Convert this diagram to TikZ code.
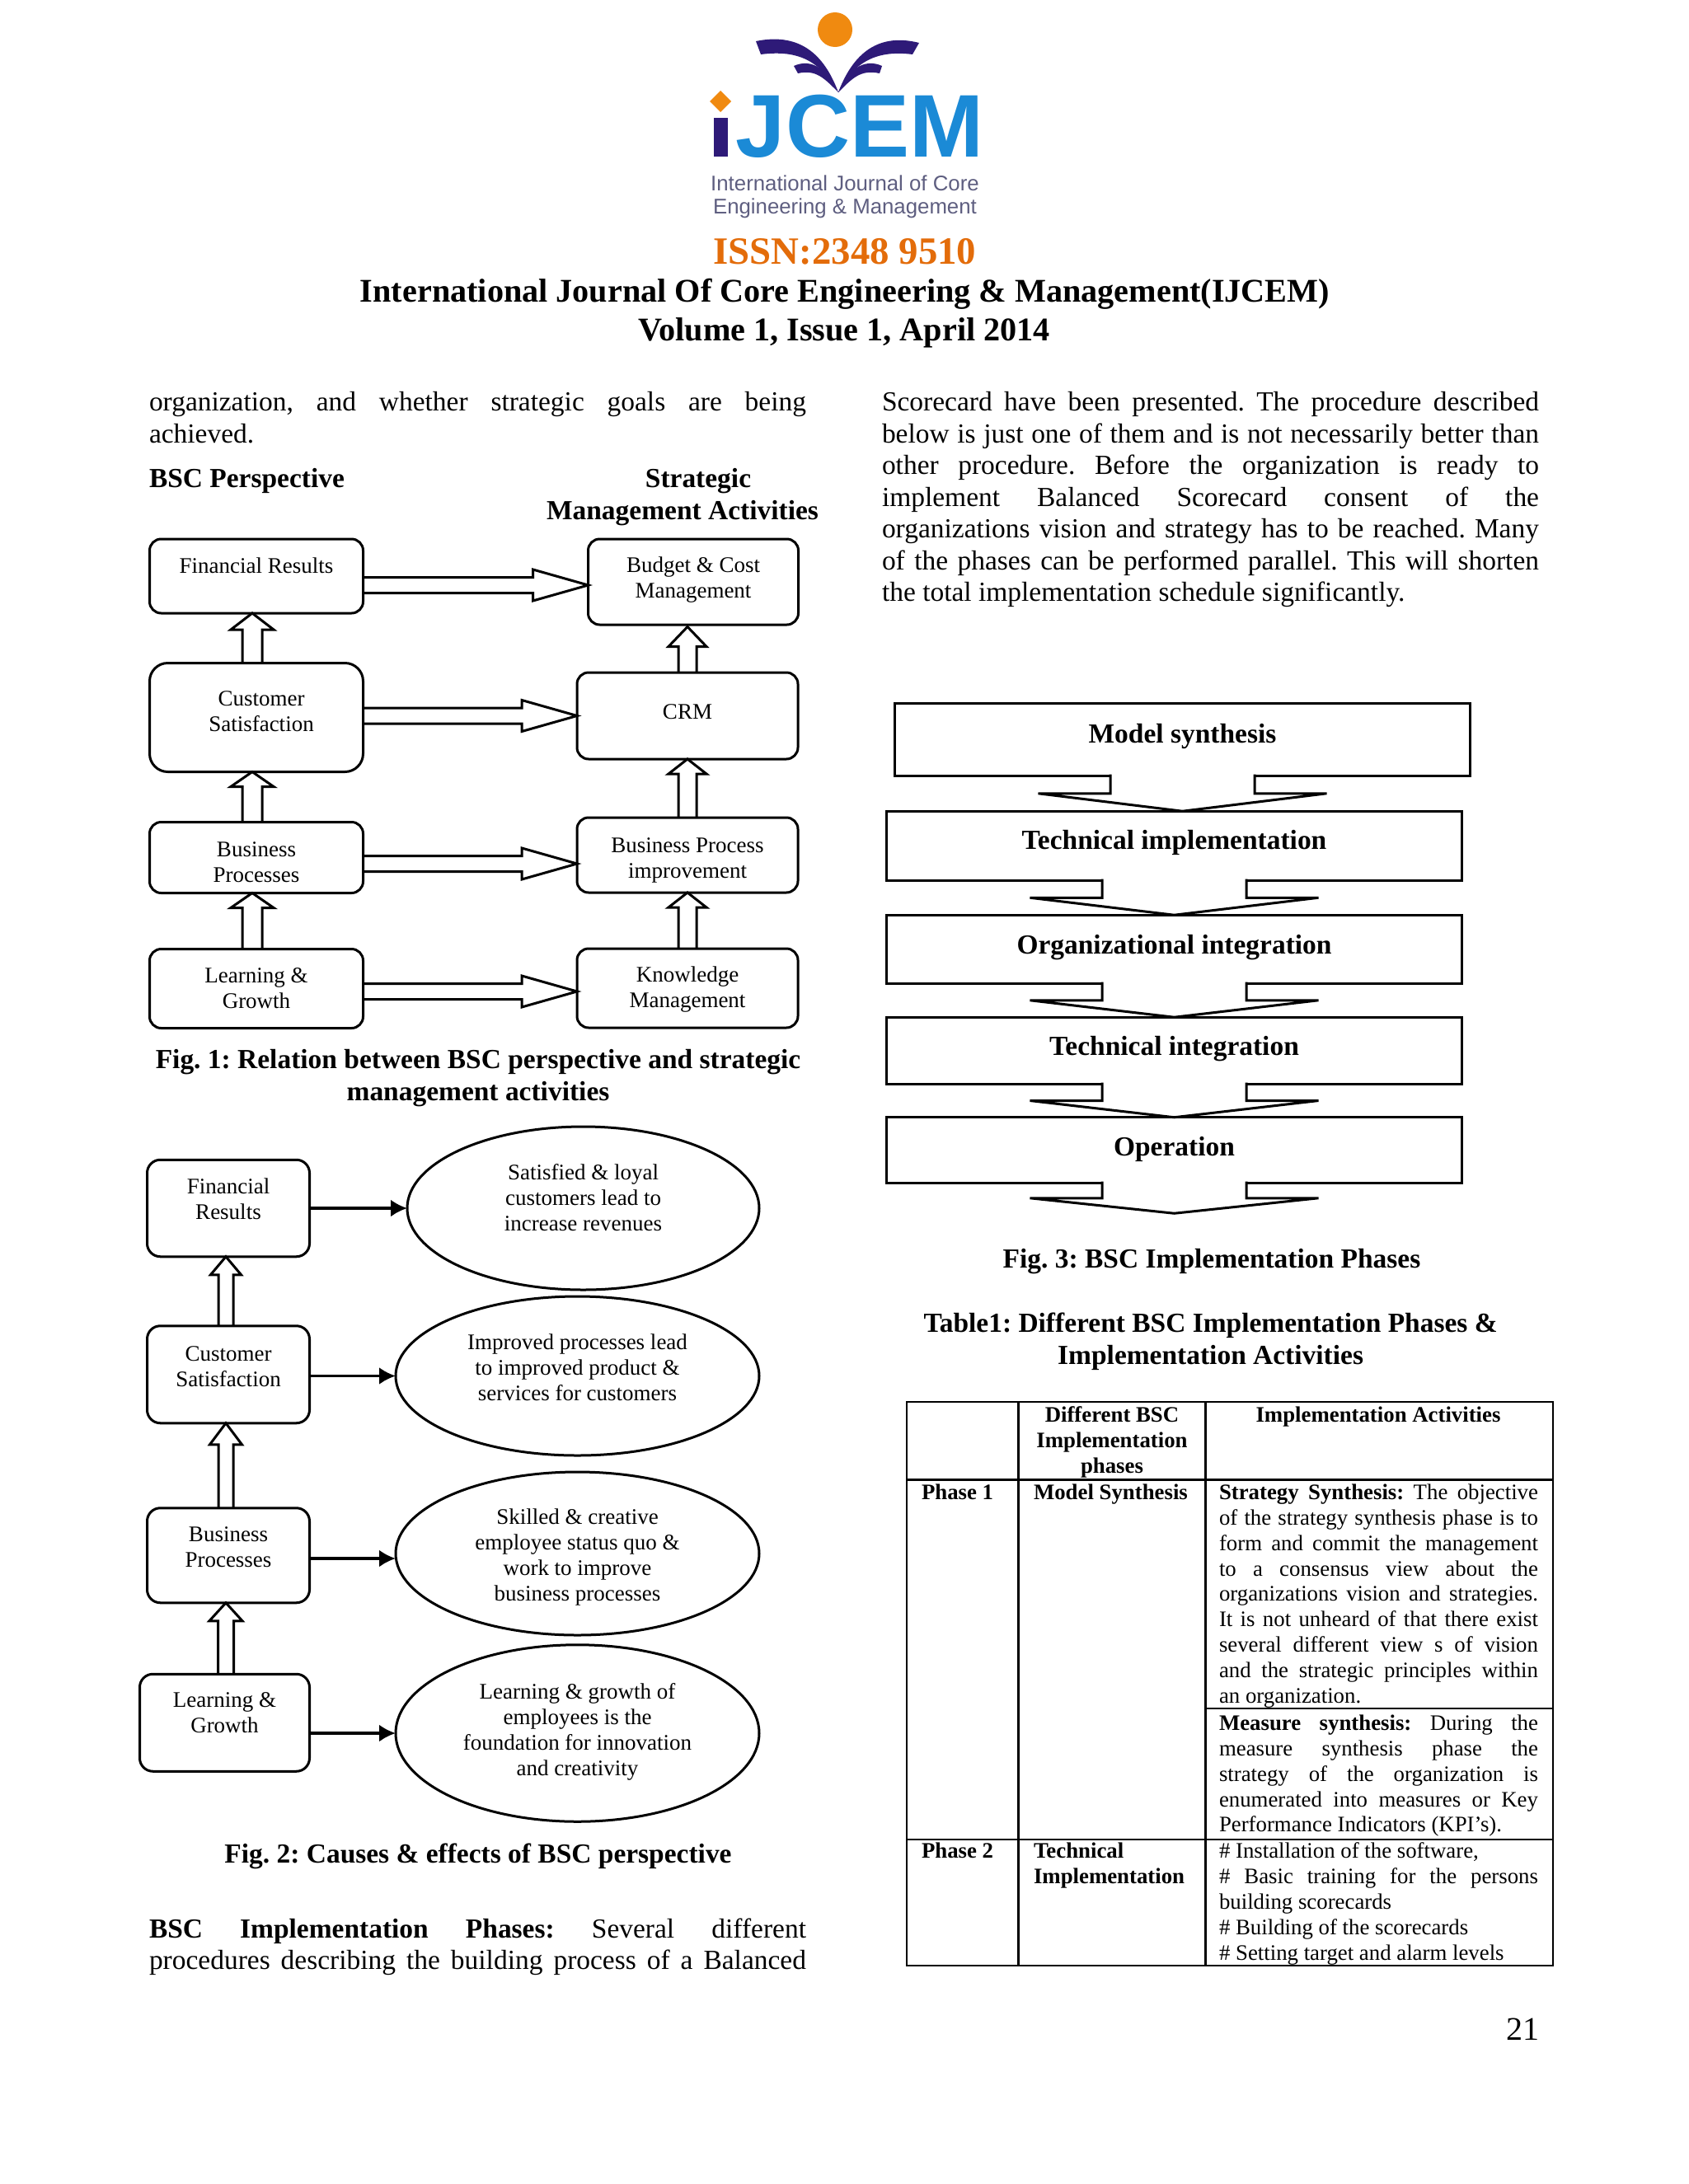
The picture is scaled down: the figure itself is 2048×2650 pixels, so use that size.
\documentclass[tikz,border=0pt]{standalone}
\usepackage{fontspec}
\setmainfont{Liberation Serif}
\setsansfont{Liberation Sans}
\usetikzlibrary{positioning}
\usetikzlibrary{calc}
\usetikzlibrary{shapes.geometric}
\usetikzlibrary{arrows.meta}
\frenchspacing

\definecolor{logopurple}{HTML}{2E1A78}
\definecolor{logoorange}{HTML}{F08A10}
\definecolor{logoblue}{HTML}{1B8AD6}
\definecolor{logogrey}{HTML}{5E5E80}
\definecolor{issnorange}{HTML}{E36C0A}

\newcommand{\parafit}{\tolerance=9999\hyphenpenalty=10000\emergencystretch=20pt\relax}
\newcommand{\bodyfont}{\fontsize{33.46}{38.5}\selectfont\parafit}
\newcommand{\figfont}{\fontsize{27}{31}\selectfont}
\newcommand{\tabfont}{\fontsize{26.8}{30.8}\selectfont\parafit}

\tikzset{
bodytext/.style={font=\bodyfont,inner sep=0pt,outer sep=0pt,text width=797pt,align=justify,anchor=north west},
headtext/.style={font=\bodyfont\bfseries,inner sep=0pt,outer sep=0pt,align=center},
tabtext/.style={font=\tabfont,inner sep=0pt,outer sep=0pt,anchor=north west},
tabhead/.style={font=\tabfont\bfseries,inner sep=0pt,outer sep=0pt,align=center,anchor=north},
roundbox/.style={draw,line width=3pt,rounded corners=14pt,inner sep=0pt,outer sep=0pt,align=center,font=\figfont},
oval/.style={draw,ellipse,line width=3pt,inner sep=0pt,outer sep=0pt,align=center,font=\figfont},
phasebox/.style={draw,line width=3pt,inner sep=0pt,outer sep=0pt,minimum width=698pt,font=\bodyfont\bfseries},
hollowright/.style={line width=3pt,line join=miter,to path={
  let \p1=(\tikztostart),\p2=(\tikztotarget) in
  (\x1,\y2+9.5pt) -- (\x2-67pt,\y2+9.5pt) -- (\x2-67pt,\y2+19pt) -- (\x2,\y2)
  -- (\x2-67pt,\y2-19pt) -- (\x2-67pt,\y2-9.5pt) -- (\x1,\y2-9.5pt)}},
hollowup/.style n args={3}{line width=3pt,line join=miter,to path={
  let \p1=(\tikztostart),\p2=(\tikztotarget) in
  (\x1-#1,\y1) -- (\x1-#1,\y2-#3) -- (\x1-#2,\y2-#3) -- (\x1,\y2)
  -- (\x1+#2,\y2-#3) -- (\x1+#1,\y2-#3) -- (\x1+#1,\y1)}},
phasearrow/.style={line width=3pt,fill=white,line join=miter,to path={
  let \p1=(\tikztostart),\p2=(\tikztotarget) in
  (\x1-87.5pt,\y1+1.6pt) -- (\x1-87.5pt,{(\y1+\y2)/2}) -- (\x1-175pt,{(\y1+\y2)/2}) -- (\x1,\y2)
  -- (\x1+175pt,{(\y1+\y2)/2}) -- (\x1+87.5pt,{(\y1+\y2)/2}) -- (\x1+87.5pt,\y1+1.6pt)}},
solidarrow/.style={line width=3.5pt,-{Latex[length=20pt,width=21pt]}},
tabline/.style={line width=2.6pt}
}

\begin{document}
\begin{tikzpicture}[x=1pt,y=-1pt]
\useasboundingbox (0,0) rectangle (2048,2650);

%logo
\fill[logoorange] (1013,36) circle (21);
\fill[logopurple] (917,50) .. controls (975,38) and (1002,72) .. (1017,112) .. controls (995,75) and (970,60) .. (923,66) -- cycle;
\fill[logopurple] (1115,52) .. controls (1060,38) and (1032,72) .. (1017,112) .. controls (1035,78) and (1060,60) .. (1107,66) -- cycle;
\fill[logopurple] (963,80) .. controls (985,70) and (1005,85) .. (1017,112) .. controls (1000,95) and (990,84) .. (968,89) -- cycle;
\fill[logopurple] (1070,80) .. controls (1048,70) and (1028,85) .. (1017,112) .. controls (1034,95) and (1044,84) .. (1067,89) -- cycle;
\fill[logoorange] (874,110) -- (887,123) -- (874,136) -- (861,123) -- cycle;
\fill[logopurple] (866,143) rectangle (883,190);
\node[inner sep=0pt,text=logoblue,font=\fontsize{108}{108}\selectfont\sffamily\bfseries] (jcem) at (1043,153) {JCEM};
\node[inner sep=0pt,text=logogrey,font=\fontsize{25.8}{26}\selectfont\sffamily] (logo1) at (1025,222) {International Journal of Core};
\node[inner sep=0pt,text=logogrey,font=\fontsize{25.8}{26}\selectfont\sffamily] (logo2) at (1025,253) {Engineering \& Management};

%journal title
\node[inner sep=0pt,text=issnorange,font=\fontsize{46.8}{48}\selectfont\bfseries] (issn) at (1025,305) {ISSN:2348 9510};
\node[inner sep=0pt,font=\fontsize{40.2}{46}\selectfont\bfseries] (title1) at (1025,357) {International Journal Of Core Engineering \& Management(IJCEM)};
\node[inner sep=0pt,font=\fontsize{40.2}{46}\selectfont\bfseries] (title2) at (1024,404) {Volume 1, Issue 1, April 2014};

%left column
\node[bodytext] (left1) at (181,475.5) {organization, and whether strategic goals are being\linebreak achieved.};
\node[headtext,anchor=north west] (head1) at (181,568) {BSC Perspective};
\node[headtext] (head2) at (847,584) {Strategic};
\node[headtext] (head3) at (828,623) {Management Activities};

%fig 1 left boxes
\node[roundbox,minimum width=259pt,minimum height=90pt,text depth=26pt] (a1) at (311,699) {Financial Results};
\node[roundbox,minimum width=259pt,minimum height=132pt,rounded corners=22pt,text depth=15pt,below=60.5pt of a1] (a2) {\hspace*{12pt}Customer\\\hspace*{12pt}Satisfaction};
\node[roundbox,minimum width=259pt,minimum height=86pt,text depth=0pt,below=61pt of a2] (a3) {\rule{0pt}{28pt}Business\\Processes};
\node[roundbox,minimum width=259pt,minimum height=96pt,text depth=1pt,below=68pt of a3] (a4) {Learning \&\\Growth};

%fig 1 right boxes
\node[roundbox,minimum width=255pt,minimum height=104pt,text depth=10pt] (b1) at (841,706) {Budget \& Cost\\Management};
\node[roundbox,minimum width=268pt,minimum height=105pt,text depth=9pt,below=58pt of b1,xshift=-7pt] (b2) {CRM};
\node[roundbox,minimum width=268pt,minimum height=91pt,text depth=0pt,below=71pt of b2] (b3) {\rule{0pt}{25pt}Business Process\\improvement};
\node[roundbox,minimum width=268pt,minimum height=96pt,text depth=2pt,below=68pt of b3] (b4) {Knowledge\\Management};

\draw[hollowright] ($(a1.east |- b1.west)+(0,4)$) to ($(b1.west)+(0,4)$);
\draw[hollowright] (a2.east |- b2.west) to (b2.west);
\draw[hollowright] ($(a3.east |- b3.west)+(0,10.5)$) to ($(b3.west)+(0,10.5)$);
\draw[hollowright] ($(a4.east |- b4.west)+(0,4)$) to ($(b4.west)+(0,4)$);

\draw[hollowup={12pt}{26pt}{20pt}] ($(a2.north)+(-5,0)$) to ($(a1.south)+(-5,0)$);
\draw[hollowup={12pt}{26pt}{18pt}] ($(a3.north)+(-5,0)$) to ($(a2.south)+(-5,0)$);
\draw[hollowup={12pt}{26pt}{18pt}] ($(a4.north)+(-5,0)$) to ($(a3.south)+(-5,0)$);
\draw[hollowup={11pt}{23pt}{24pt}] (b2.north) to ($(b2.north |- b1.south)+(0,2.5)$);
\draw[hollowup={11pt}{23pt}{18pt}] (b3.north) to (b3.north |- b2.south);
\draw[hollowup={11pt}{23pt}{18pt}] (b4.north) to (b4.north |- b3.south);

\node[headtext] (cap1) at (580,1289) {Fig. 1: Relation between BSC perspective and strategic};
\node[headtext] (cap1b) at (580,1328) {management activities};

%fig 2 boxes
\node[roundbox,minimum width=197pt,minimum height=117.5pt,rounded corners=16pt,text depth=22pt] (c1) at (277,1466) {Financial\\Results};
\node[roundbox,minimum width=197pt,minimum height=118pt,rounded corners=16pt,text depth=20pt,below=84pt of c1] (c2) {Customer\\Satisfaction};
\node[roundbox,minimum width=197pt,minimum height=115pt,rounded corners=16pt,text depth=20pt,below=103pt of c2] (c3) {Business\\Processes};
\node[roundbox,minimum width=206pt,minimum height=118pt,rounded corners=16pt,text depth=24pt,below=86.5pt of c3,xshift=-4.5pt] (c4) {Learning \&\\Growth};

%fig 2 ovals
\node[oval,minimum width=427pt,minimum height=198pt,text depth=27pt] (e1) at (707.5,1466) {Satisfied \& loyal\\customers lead to\\increase revenues};
\node[oval,minimum width=441pt,minimum height=193pt,text depth=20pt] (e2) at (700.5,1669.5) {Improved processes lead\\to improved product \&\\services for customers};
\node[oval,minimum width=441pt,minimum height=198pt,text depth=0pt] (e3) at (700.5,1885) {\rule{0pt}{22pt}Skilled \& creative\\employee status quo \&\\work to improve\\business processes};
\node[oval,minimum width=441pt,minimum height=214.5pt,text depth=10pt] (e4) at (700.5,2103) {Learning \& growth of\\employees is the\\foundation for innovation\\and creativity};

\draw[solidarrow] (c1.east |- e1.west) -- (e1.west);
\draw[solidarrow] (c2.east |- e2.west) -- (e2.west);
\draw[solidarrow] ($(c3.east |- e3.west)+(0,6)$) -- ($(e3.west)+(0,6)$);
\draw[solidarrow] (c4.east |- e4.west) -- (e4.west);

\draw[hollowup={9pt}{18.5pt}{22pt}] ($(c2.north)+(-3,0)$) to ($(c1.south)+(-3,0)$);
\draw[hollowup={9pt}{19.5pt}{26pt}] ($(c3.north)+(-3,0)$) to ($(c2.south)+(-3,0)$);
\draw[hollowup={9.5pt}{20pt}{22pt}] ($(c4.north)+(1.5,0)$) to ($(c4.north |- c3.south)+(1.5,0)$);

\node[headtext] (cap2) at (580,2252) {Fig. 2: Causes \& effects of BSC perspective};
\node[bodytext] (left2) at (181,2327.5) {\textbf{BSC Implementation Phases:} Several different\linebreak \makebox[797pt][s]{procedures describing the building process of a Balanced}};

%right column
\node[bodytext] (right1) at (1070,475.5) {Scorecard have been presented. The procedure described\linebreak below is just one of them and is not necessarily better than\linebreak other procedure. Before the organization is ready to\linebreak implement Balanced Scorecard consent of the\linebreak organizations vision and strategy has to be reached. Many\linebreak of the phases can be performed parallel. This will shorten\linebreak the total implementation schedule significantly.};

%fig 3 phases
\node[phasebox,minimum height=87.5pt,text depth=15pt] (p1) at (1434.5,897.5) {Model synthesis};
\node[phasebox,minimum height=84pt,text depth=15pt,below=43pt of p1,xshift=-10pt] (p2) {Technical implementation};
\node[phasebox,minimum height=83pt,text depth=12pt,below=42pt of p2] (p3) {Organizational integration};
\node[phasebox,minimum height=81pt,text depth=12pt,below=41pt of p3] (p4) {Technical integration};
\node[phasebox,minimum height=79.5pt,text depth=10pt,below=40.5pt of p4] (p5) {Operation};
\coordinate[below=37pt of p5] (p6);

\draw[phasearrow] (p1.south) to (p1.south |- p2.north);
\draw[phasearrow] (p2.south) to (p3.north);
\draw[phasearrow] (p3.south) to (p4.north);
\draw[phasearrow] (p4.south) to (p5.north);
\draw[phasearrow] (p5.south) to (p6);

\node[headtext] (cap3) at (1470,1531) {Fig. 3: BSC Implementation Phases};
\node[headtext] (cap4) at (1468.6,1608) {Table1: Different BSC Implementation Phases \&};
\node[headtext] (cap4b) at (1468.6,1647) {Implementation Activities};

%table
\draw[tabline] (1100,1701) rectangle (1884,2385);
\draw[tabline] (1235.5,1701) -- (1235.5,2385);
\draw[tabline] (1462.5,1701) -- (1462.5,2385);
\draw[tabline] (1100,1795.6) -- (1884,1795.6);
\draw[tabline] (1462.5,2073) -- (1884,2073);
\draw[tabline] (1100,2232) -- (1884,2232);

\node[tabhead] (h1) at (1349,1707) {Different BSC\\Implementation\\phases};
\node[tabhead] (h2) at (1672,1707) {Implementation Activities};
\node[tabtext,font=\tabfont\bfseries] (ph1) at (1118,1801) {Phase 1};
\node[tabtext,font=\tabfont\bfseries] (m1) at (1254,1801) {Model Synthesis};
\node[tabtext,text width=387pt,align=justify] (s1) at (1479,1801) {\textbf{Strategy Synthesis:} The objective\linebreak of the strategy synthesis phase is to\linebreak form and commit the management\linebreak to a consensus view about the\linebreak organizations vision and strategies.\linebreak It is not unheard of that there exist\linebreak several different view s of vision\linebreak and the strategic principles within\linebreak an organization.};
\node[tabtext,text width=387pt,align=justify] (s2) at (1479,2081) {\textbf{Measure synthesis:} During the\linebreak measure synthesis phase the\linebreak strategy of the organization is\linebreak enumerated into measures or Key\linebreak Performance Indicators (KPI’s).};
\node[tabtext,font=\tabfont\bfseries] (ph2) at (1118,2236) {Phase 2};
\node[tabtext,font=\tabfont\bfseries,align=left] (m2) at (1254,2236) {Technical\\Implementation};
\node[tabtext,text width=387pt,align=justify] (s3) at (1479,2236) {\# Installation of the software,\newline \# Basic training for the persons\linebreak building scorecards\newline \# Building of the scorecards\newline \# Setting target and alarm levels};

%page number
\node[inner sep=0pt,font=\fontsize{40}{46}\selectfont] (pagenum) at (1847,2462) {21};
\end{tikzpicture}
\end{document}
